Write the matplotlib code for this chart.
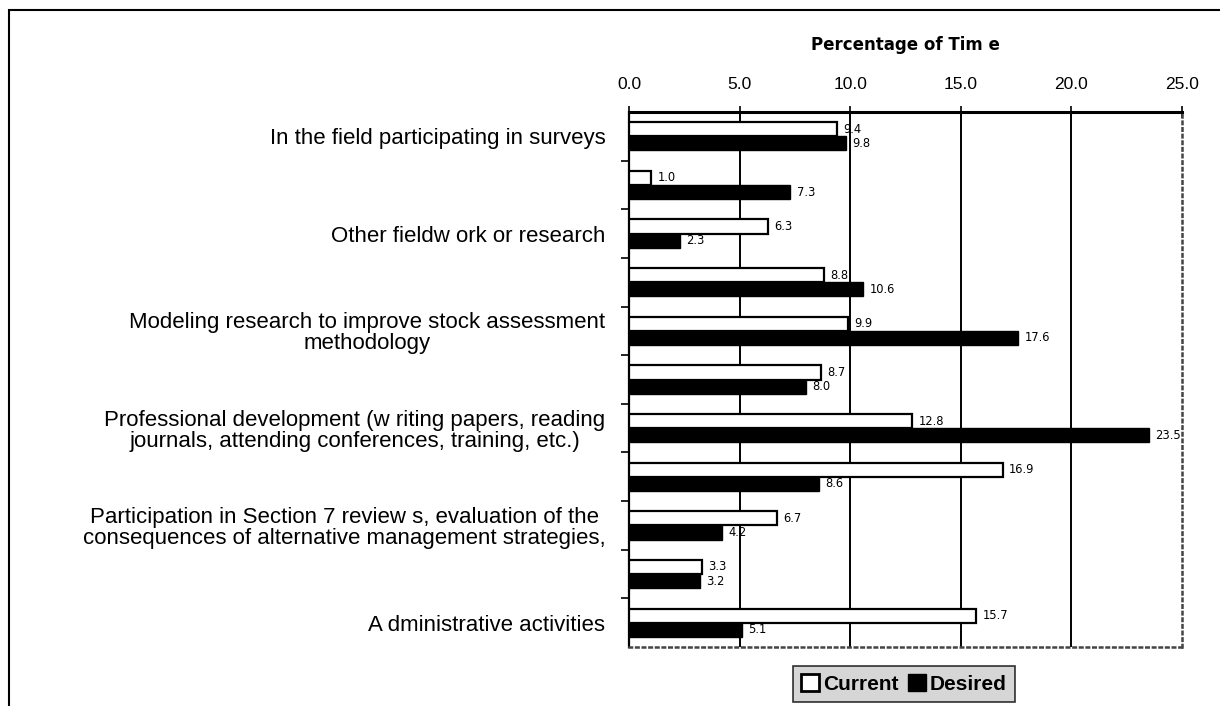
import matplotlib
matplotlib.use("Agg")
import matplotlib.pyplot as plt
import numpy as np
from matplotlib.patches import Rectangle, Patch

plt.rcParams['font.family'] = ['Liberation Sans', 'DejaVu Sans']

labels = [
    "In the field participating in surveys",
    "",
    "Other fieldw ork or research",
    "",
    "Modeling research to improve stock assessment\nmethodology",
    "",
    "Professional development (w riting papers, reading\njournals, attending conferences, training, etc.)",
    "",
    "Participation in Section 7 review s, evaluation of the\nconsequences of alternative management strategies,",
    "",
    "A dministrative activities",
]
current = [9.4, 1.0, 6.3, 8.8, 9.9, 8.7, 12.8, 16.9, 6.7, 3.3, 15.7]
desired = [9.8, 7.3, 2.3, 10.6, 17.6, 8.0, 23.5, 8.6, 4.2, 3.2, 5.1]
xticks = [0, 5, 10, 15, 20, 25]

W, H = 1220, 706
fig = plt.figure(figsize=(W / 100, H / 100), dpi=100)
L, R, T, B = 629, 1182, 112, 647
ax = fig.add_axes([L / W, 1 - B / H, (R - L) / W, (B - T) / H])

# figure border
fig.patches.append(Rectangle((9 / W, -0.1), 1.2, 1 - 10 / H + 0.1, transform=fig.transFigure,
                             fill=False, edgecolor='black', lw=1.5))

y = np.arange(len(labels))
h = 0.29
ax.barh(y - h / 2, current, height=h, color='white', edgecolor='black', lw=1.6, zorder=3)
ax.barh(y + h / 2, desired, height=h, color='black', edgecolor='black', lw=1.0, zorder=3)

for i, (c, d) in enumerate(zip(current, desired)):
    ax.annotate(f"{c:.1f}", (c, i - h / 2), xytext=(4.5, 0), textcoords='offset points',
                ha='left', va='center', fontsize=8.3, family='DejaVu Sans', zorder=5)
    ax.annotate(f"{d:.1f}", (d, i + h / 2), xytext=(4.5, 0), textcoords='offset points',
                ha='left', va='center', fontsize=8.3, family='DejaVu Sans', zorder=5)

ax.set_xlim(0, 25)
ax.set_ylim(len(labels) - 0.5, -0.5)

for xv in xticks[1:-1]:
    ax.axvline(xv, color='black', lw=1.4, zorder=1)

ax.xaxis.tick_top()
ax.xaxis.set_label_position('top')
ax.set_xticks(xticks)
ax.set_xticklabels([f"{v:.1f}" for v in xticks], fontsize=12.5)
ax.tick_params(axis='x', direction='inout', length=9, width=1.2, pad=10)
ax.set_xlabel("Percentage of Tim e", fontsize=12, fontweight='bold', family='DejaVu Sans',
              labelpad=19)

ax.set_yticks(y)
ax.set_yticklabels(labels, fontsize=16)
for t in ax.get_yticklabels():
    t.set_multialignment('center')
    t.set_linespacing(1.0)
ax.tick_params(axis='y', length=0, pad=17)
ax.set_yticks(np.arange(len(labels) - 1) + 0.5, minor=True)
ax.tick_params(axis='y', which='minor', length=6, width=1.2, direction='out')

ax.spines['top'].set_linewidth(2.2)
ax.spines['left'].set_linewidth(1.6)
ax.spines['right'].set_linestyle(':')
ax.spines['right'].set_color('#444444')
ax.spines['right'].set_linewidth(1.8)
ax.spines['bottom'].set_linestyle(':')
ax.spines['bottom'].set_color('#444444')
ax.spines['bottom'].set_linewidth(1.8)

handles = [Patch(facecolor='white', edgecolor='black', lw=2.0, label='Current'),
           Patch(facecolor='black', edgecolor='black', label='Desired')]
leg = fig.legend(handles=handles, loc='center', bbox_to_anchor=(904 / W, 1 - 684 / H), ncol=2,
                 frameon=True, fancybox=False, handlelength=0.85, handleheight=0.85,
                 handletextpad=0.2, columnspacing=0.45, borderpad=0.4,
                 prop={'weight': 'bold', 'size': 15})
leg.get_frame().set_facecolor('#cccccc')
leg.get_frame().set_edgecolor('black')
leg.get_frame().set_linewidth(1.2)

fig.savefig("out.png", dpi=100)
